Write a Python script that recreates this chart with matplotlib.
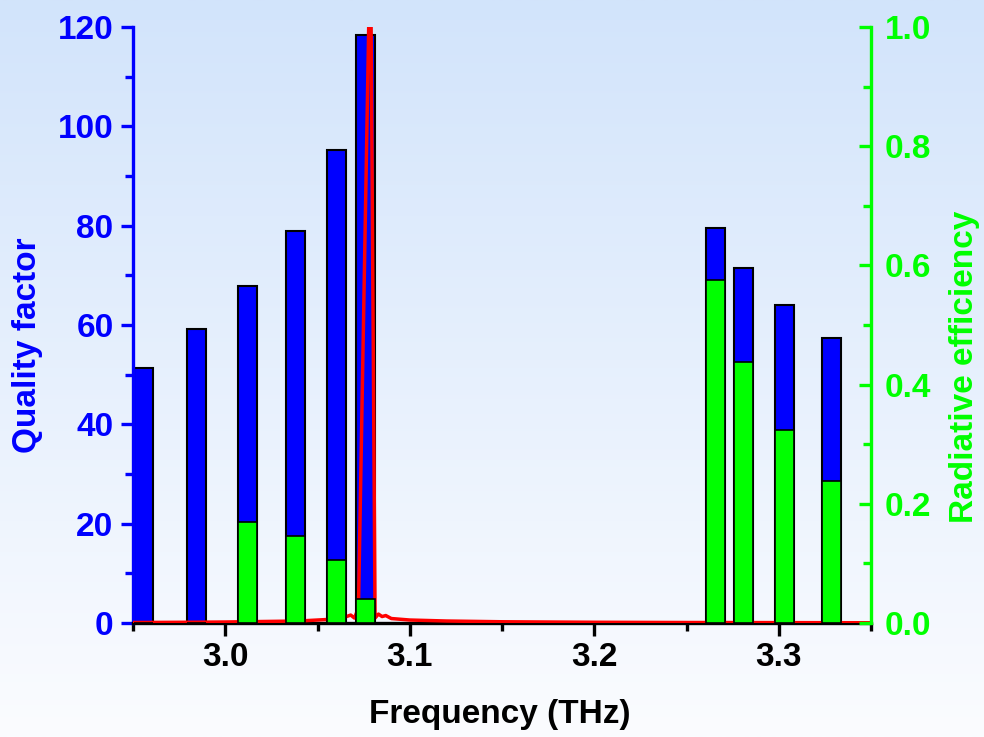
## plot.py: quality factor and radiative efficiency vs frequency
import numpy as np
import matplotlib
matplotlib.use('Agg')
from matplotlib import pyplot as plt
from matplotlib.ticker import MultipleLocator

plt.rcParams['font.family'] = ['Liberation Sans', 'DejaVu Sans']
plt.rcParams['font.weight'] = 'bold'

# --- data ---
freq = [2.9559, 2.9846, 3.0122, 3.0381, 3.0603, 3.0759,
        3.2657, 3.2811, 3.3030, 3.3285]
q_factor = [51.4, 59.2, 67.8, 78.9, 95.2, 118.4,
            79.6, 71.5, 64.0, 57.4]
rad_eff = [0.0, 0.0, 0.169, 0.146, 0.105, 0.041,
           0.576, 0.438, 0.323, 0.238]

# red spectrum (arb. units on the left scale, peak goes off the top)
spec_f = [2.95, 2.98, 3.00, 3.02, 3.04, 3.05, 3.06, 3.065, 3.068, 3.070,
          3.0722, 3.0787, 3.0812, 3.083, 3.085, 3.087, 3.090, 3.100,
          3.120, 3.150, 3.200, 3.250, 3.300, 3.350]
spec_v = [0.1, 0.15, 0.2, 0.3, 0.4, 0.6, 0.8, 1.2, 1.6, 1.0,
          3.0, 140.0, 1.0, 1.8, 1.3, 1.5, 0.9, 0.6,
          0.4, 0.25, 0.15, 0.1, 0.08, 0.05]

blue, green, red = '#0000ff', '#00ff00', '#ff0000'
W, H = 984, 737

fig = plt.figure(figsize=(W/100, H/100), dpi=100)

# background gradient
bg = fig.add_axes([0, 0, 1, 1], zorder=-10)
grad = np.linspace(0, 1, 256).reshape(-1, 1)
top_c = np.array([210, 228, 251]) / 255
bot_c = np.array([251, 252, 255]) / 255
img = top_c[None, None, :] * (1 - grad[:, :, None]) + bot_c[None, None, :] * grad[:, :, None]
bg.imshow(img, aspect='auto', extent=[0, 1, 0, 1])
bg.axis('off')

ax1 = fig.add_axes([133/W, 1-623/H, 738/W, 596/H])
ax1.patch.set_alpha(0)
ax2 = ax1.twinx()
ax2.patch.set_alpha(0)

ax1.bar(freq, q_factor, width=0.0102, color=blue, edgecolor='black',
        linewidth=1.5, zorder=2)
ax1.plot(spec_f, spec_v, color=red, linewidth=2.5, zorder=3)
ax2.bar(freq, rad_eff, width=0.0102, color=green, edgecolor='black',
        linewidth=1.2, zorder=2)

ax1.set_xlim(2.95, 3.35)
ax1.set_ylim(0, 120)
ax2.set_ylim(0, 1.0)

ax1.xaxis.set_major_locator(MultipleLocator(0.1))
ax1.xaxis.set_minor_locator(MultipleLocator(0.05))
ax1.yaxis.set_major_locator(MultipleLocator(20))
ax1.yaxis.set_minor_locator(MultipleLocator(10))
ax2.yaxis.set_major_locator(MultipleLocator(0.2))
ax2.yaxis.set_minor_locator(MultipleLocator(0.1))
ax1.xaxis.set_major_formatter(plt.FormatStrFormatter('%.1f'))
ax2.yaxis.set_major_formatter(plt.FormatStrFormatter('%.1f'))

for sp in ('top', 'right'):
    ax1.spines[sp].set_visible(False)
for sp in ('top', 'left', 'bottom'):
    ax2.spines[sp].set_visible(False)
ax1.spines['left'].set_color(blue)
ax1.spines['left'].set_linewidth(2.4)
ax1.spines['bottom'].set_color('black')
ax1.spines['bottom'].set_linewidth(2.4)
ax2.spines['right'].set_color(green)
ax2.spines['right'].set_linewidth(2.4)

ax1.tick_params(axis='x', which='major', direction='out', length=9, width=2.4,
                colors='black', labelsize=24, pad=5)
ax1.tick_params(axis='x', which='minor', direction='out', length=5.5, width=2.4,
                colors='black')
ax1.tick_params(axis='y', which='major', direction='out', length=9, width=2.4,
                colors=blue, labelsize=24, pad=5)
ax1.tick_params(axis='y', which='minor', direction='out', length=5.5, width=2.4,
                colors=blue)
ax2.tick_params(axis='y', which='major', direction='in', length=9, width=2.4,
                colors=green, labelsize=24, pad=10)
ax2.tick_params(axis='y', which='minor', direction='in', length=5.5, width=2.4,
                colors=green)
for lab in ax1.get_xticklabels() + ax1.get_yticklabels() + ax2.get_yticklabels():
    lab.set_fontweight('bold')

# axis titles placed at their pixel centres
fig.text(500/W, 1-715/H, 'Frequency (THz)', fontsize=24, fontweight='bold',
         color='black', ha='center', va='center')
fig.text(28/W, 1-345/H, 'Quality factor', fontsize=24, fontweight='bold',
         color=blue, ha='center', va='center', rotation=90)
fig.text(965/W, 1-367/H, 'Radiative efficiency', fontsize=24, fontweight='bold',
         color=green, ha='center', va='center', rotation=90)

fig.savefig('out.png', dpi=100)
